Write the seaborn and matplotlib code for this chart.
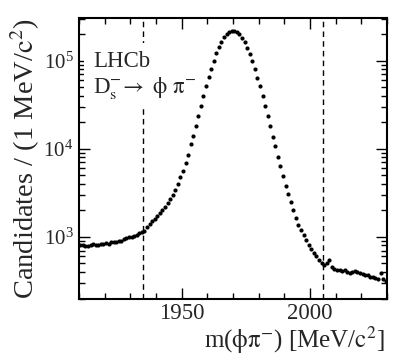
import numpy as np
import pandas as pd
import seaborn as sns
import matplotlib.pyplot as plt
from matplotlib.patches import Rectangle
from matplotlib.ticker import LogLocator, MultipleLocator, NullFormatter

### Data: 1 MeV bins from 1910 to 2030
mass_lo = 1910
mass_hi = 2030
counts = [
    800, 815, 790, 780, 815, 830, 810, 805, 825, 830,
    845, 840, 870, 880, 885, 890, 910, 935, 965, 985,
    1010, 1030, 1060, 1120, 1150, 1170, 1290, 1400, 1500, 1610,
    1740, 1870, 2000, 2180, 2420, 2680, 3000, 3380, 4000, 4750,
    5650, 6950, 8600, 11200, 14100, 18000, 23500, 30600, 39800, 51500,
    65000, 81000, 100000, 121000, 142000, 164000, 185000, 201000, 213000, 220000,
    219000, 213000, 201000, 182000, 161000, 140000, 118000, 98000, 81000, 64000,
    51000, 40000, 30600, 23500, 18000, 13700, 10700, 8100, 6300, 4950,
    3800, 3050, 2500, 2020, 1620, 1370, 1190, 1040, 920, 810,
    720, 660, 600, 550, 505, 480, 510, 545, 450, 430,
    425, 420, 415, 425, 400, 390, 395, 405, 395, 385,
    380, 370, 365, 355, 350, 340, 335, 385, 330, 315,
]
window = [1935, 2005]

centers = np.arange(mass_lo, mass_hi) + 0.5
df = pd.DataFrame({'mass': centers, 'counts': counts})

## Style: ROOT / LHCb look
sns.set_style('ticks')
plt.rcParams['font.family'] = ['Liberation Serif', 'DejaVu Serif']
plt.rcParams['mathtext.fontset'] = 'stix'

W, H = 407, 360
fig = plt.figure(figsize=(W/100, H/100), dpi=100)
ax = fig.add_axes([79/W, 61.5/H, 308/W, 280.5/H])

sns.scatterplot(data=df, x='mass', y='counts', ax=ax, color='black',
                s=9, linewidth=0, legend=False)

## Signal window
for w in window:
    ax.axvline(w, color='black', linewidth=1.0, linestyle=(0, (4, 3)), zorder=2)

## white box behind the LHCb label hides the dashed line there
ax.add_patch(Rectangle((84/W, 1 - 107/H), 70/W, 64/H, transform=fig.transFigure,
                       facecolor='white', edgecolor='none', zorder=2.5))

ax.set_yscale('log')
ax.set_xlim(mass_lo, mass_hi)
ax.set_ylim(200, 3.05e5)

ax.xaxis.set_major_locator(MultipleLocator(50))
ax.xaxis.set_minor_locator(MultipleLocator(10))
ax.yaxis.set_major_locator(LogLocator(base=10))
ax.yaxis.set_minor_locator(LogLocator(base=10, subs=np.arange(2, 10)))
ax.yaxis.set_minor_formatter(NullFormatter())

ax.tick_params(which='both', direction='in', top=True, right=True,
               width=1.0, color='black')
ax.tick_params(axis='x', which='major', labelsize=16.5, length=8, pad=3)
ax.tick_params(axis='y', which='major', labelsize=15, length=8, pad=4)
ax.tick_params(which='minor', length=4)
for sp in ax.spines.values():
    sp.set_linewidth(1.5)
    sp.set_color('black')

ax.set_xlabel('')
ax.set_ylabel('')
fig.text(385/W, 1 - 348/H, r'm($\mathrm{\phi\pi^{-}}$) [MeV/$\mathrm{c^{2}}$]',
         ha='right', va='baseline', fontsize=18)
fig.text(25/W, 1 - 18/H, r'Candidates / (1 MeV/$\mathrm{c^{2}}$)',
         rotation=90, ha='center', va='top', fontsize=20.5)

## LHCb label
fig.text(93/W, 1 - 67/H, 'LHCb', fontsize=16.5, ha='left', va='baseline')
fig.text(93/W, 1 - 93/H, r'D$\mathrm{_{s}^{-}\!\rightarrow\ \phi\ \pi^{-}}$',
         fontsize=16.5, ha='left', va='baseline')

fig.savefig('out.png', dpi=100)
plt.close()
